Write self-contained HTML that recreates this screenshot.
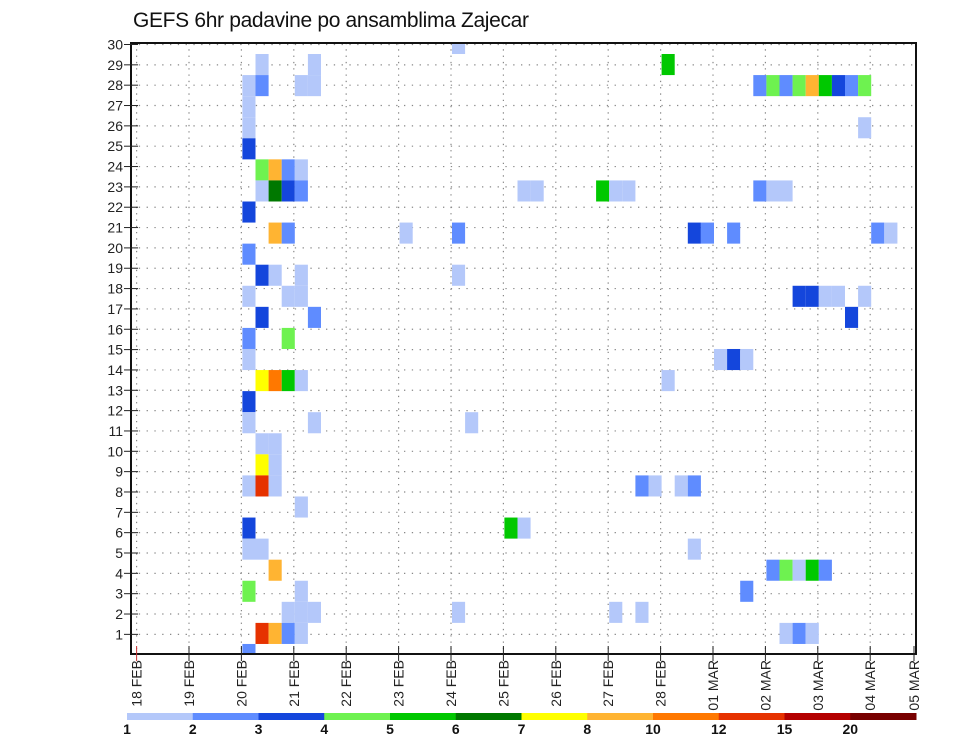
<!DOCTYPE html>
<html><head><meta charset="utf-8">
<style>
html,body{margin:0;padding:0;background:#fff;}
svg{display:block;font-family:"Liberation Sans",sans-serif;}
</style></head>
<body>
<svg id="chart" width="960" height="742" viewBox="0 0 960 742" xmlns="http://www.w3.org/2000/svg">
<text x="133" y="27" font-size="21" fill="#111" textLength="396">GEFS 6hr padavine po ansamblima Zajecar</text>
<defs><clipPath id="plotclip"><rect x="131" y="43" width="785" height="611"/></clipPath></defs>
<g id="grid"></g>
<g id="cells" clip-path="url(#plotclip)"></g>
<g id="axes"></g>
<g id="legend"></g>
</svg>
<script>
// --- data ---
const dayLabels = ["18 FEB","19 FEB","20 FEB","21 FEB","22 FEB","23 FEB","24 FEB","25 FEB","26 FEB","27 FEB","28 FEB","01 MAR","02 MAR","03 MAR","04 MAR","05 MAR"];
const yTickLabels = [1,2,3,4,5,6,7,8,9,10,11,12,13,14,15,16,17,18,19,20,21,22,23,24,25,26,27,28,29,30];
const levelLabels = ["1","2","3","4","5","6","7","8","10","12","15","20"];
const levelColors = ["#b4c8fa","#5f8cff","#1446dc","#6ef250","#00c800","#007800","#ffff00","#ffb432","#ff7800","#e63200","#b40000","#780000"];
// cells: time step (6h steps from 18 FEB 00Z), member row, color class (1..12)
const cellTime = [9,13, 8,9,12,13, 8, 8, 8, 9,10,11,12, 9,10,11,12,29,30,35,36,37,47,48,49, 8, 10,11,20,24,42,43,45,56,57, 8, 9,10,12,24, 8,11,12,50,51,52,53,55, 9,13,54, 8,11, 8,44,45,46, 9,10,11,12,40, 8, 8,13,25, 9,10, 9,10, 8,9,10,38,39,41,42, 12, 8,28,29, 8,9,42, 10,48,49,50,51,52, 8,12,46, 11,12,13,24,36,38, 9,10,11,12,49,50,51, 8, 24, 40, 47,48,49,50,51,52,53,54,55, 55];
const cellMember = [28,28, 27,27,27,27, 26, 25, 24, 23,23,23,23, 22,22,22,22,22,22,22,22,22,22,22,22, 21, 20,20,20,20,20,20,20,20,20, 19, 18,18,18,18, 17,17,17,17,17,17,17,17, 16,16,16, 15,15, 14,14,14,14, 13,13,13,13,13, 12, 11,11,11, 10,10, 9,9, 8,8,8,8,8,8,8, 7, 6,6,6, 5,5,5, 4,4,4,4,4,4, 3,3,3, 2,2,2,2,2,2, 1,1,1,1,1,1,1, 0, 29, 28, 27,27,27,27,27,27,27,27,27, 25];
const cellClass = [1,1, 1,2,1,1, 1, 1, 3, 4,8,2,1, 1,6,3,2,1,1,5,1,1,2,1,1, 3, 8,2,1,2,3,2,2,2,1, 2, 3,1,1,1, 1,1,1,3,3,1,1,1, 3,2,3, 2,4, 1,1,3,1, 7,9,5,1,1, 3, 1,1,1, 1,1, 7,1, 1,10,1,2,1,1,2, 1, 3,5,1, 1,1,1, 8,2,4,1,5,2, 4,1,2, 1,1,1,1,1,1, 10,8,2,1,1,2,1, 2, 1, 5, 2,4,2,4,8,5,3,2,4, 1];

// --- scales ---
const X0 = 136.6, DAY = 52.4;
function xDay(d){ return X0 + d*DAY; }
function xStep(k){ return xDay(k/4); }
function yTick(v){ return 654.7 - 20.34*v; }
const MEMBER_H = 21.07;
function yMember(j){ return 654.5 - MEMBER_H*j; }
const NS = "http://www.w3.org/2000/svg";
function mk(tag, attrs, parent){ const e=document.createElementNS(NS,tag); for(const a in attrs) e.setAttribute(a,attrs[a]); parent.appendChild(e); return e; }

const grid = document.getElementById('grid');
const cells = document.getElementById('cells');
const axes = document.getElementById('axes');
const legend = document.getElementById('legend');

// grid lines
yTickLabels.forEach(v=>{
  const l = mk('line',{x1:131,x2:916,y1:yTick(v),y2:yTick(v),stroke:'#888','stroke-width':1.2,'stroke-dasharray':'1.3 6.5'},grid);
  
  
});
dayLabels.forEach((s,i)=>{
  const x=xDay(i); if(x>915) return;
  const l = mk('line',{x1:x,x2:x,y1:43,y2:654,stroke:'#888','stroke-width':1.2,'stroke-dasharray':'1.3 5'},grid);
  
  
});

// cells
for(let i=0;i<cellTime.length;i++){
  const c = mk('rect',{x:xStep(cellTime[i])+1,y:yMember(cellMember[i])-MEMBER_H/2,width:DAY/4,height:MEMBER_H,fill:levelColors[cellClass[i]-1]},cells);
  
  
}

// frame
const fr = mk('rect',{x:131,y:43,width:785,height:611,fill:'none',stroke:'#111','stroke-width':2},axes);



// y ticks & labels
yTickLabels.forEach(v=>{
  const y=yTick(v);
  const t=mk('line',{x1:124,x2:138,y1:y,y2:y,stroke:'#222','stroke-width':1},axes);
  
  
  const tx=mk('text',{x:123,y:y+5,'font-size':14,'text-anchor':'end',fill:'#222'},axes);
  tx.textContent=v;
  
  
});

// x ticks & labels
dayLabels.forEach((s,i)=>{
  let x=xDay(i); if(x>916) x=914;
  const t=mk('line',{x1:x,x2:x,y1:646,y2:661,stroke:i===0?'#c33':'#222','stroke-width':1},axes);
  
  
  const tx=mk('text',{x:0,y:0,'font-size':14,'text-anchor':'end',fill:'#222',transform:'translate('+(x+5)+',660) rotate(-90)'},axes);
  tx.textContent=s;
  
  
});

// colorbar
const CB0=127, CBW=(916-127)/levelColors.length;
levelColors.forEach((col,i)=>{
  const r=mk('rect',{x:CB0+i*CBW,y:713,width:CBW+0.5,height:7,fill:col},legend);
  
  
});
levelLabels.forEach((s,i)=>{
  const tx=mk('text',{x:CB0+i*CBW,y:734,'font-size':14,'font-weight':'bold','text-anchor':'middle',fill:'#111'},legend);
  tx.textContent=s;
  
  
});
</script>
</body></html>
